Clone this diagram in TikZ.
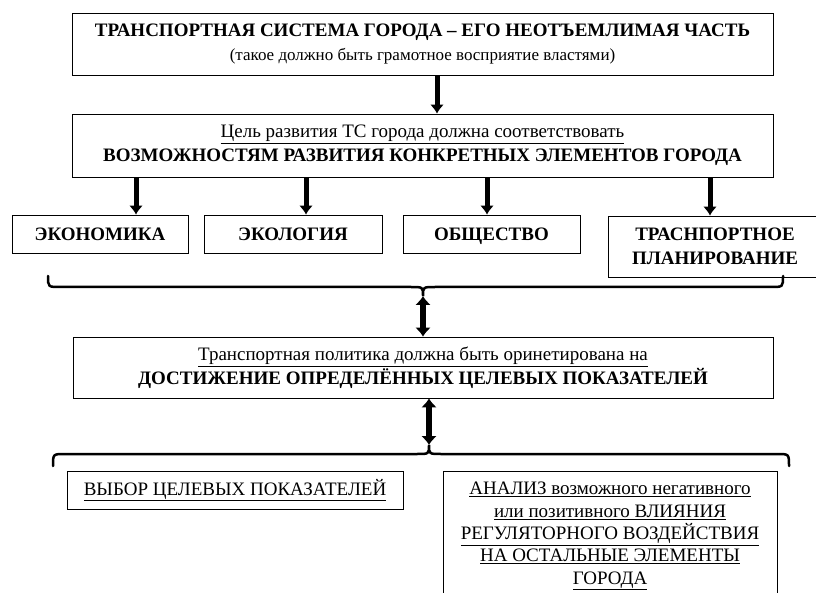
\documentclass[tikz,border=0pt]{standalone}
\usepackage{fontspec}
\setmainfont{Liberation Serif}
\usetikzlibrary{arrows.meta}
\newcommand{\lineunder}[1]{\underline{#1}}

\tikzset{
  box/.style={draw, line width=0.8pt, inner sep=0pt, align=center,
    font=\fontsize{19}{24}\selectfont},
  elem/.style={box, font=\fontsize{19}{24}\selectfont\bfseries, minimum height=38pt,
    text depth=0pt},
  bigarrow/.style={line width=5pt, -{Latex[length=9pt,width=14pt]}},
  botharrow/.style={line width=6pt, {Latex[length=9pt,width=16pt]}-{Latex[length=9pt,width=16pt]}},
  brace/.style={line width=2.5pt, line cap=round},
}

\begin{document}
\begin{tikzpicture}[x=1pt,y=-1pt]
\useasboundingbox (0,0) rectangle (816,593);
% top boxes
\node[box, minimum width=701pt, minimum height=62pt] (sys) at (422.5,44.5)
  {\textbf{ТРАНСПОРТНАЯ СИСТЕМА ГОРОДА – ЕГО НЕОТЪЕМЛИМАЯ ЧАСТЬ}\\
   {\fontsize{17}{20}\selectfont(такое должно быть грамотное восприятие властями)}};
\node[box, minimum width=701pt, minimum height=63pt] (goal) at (422.5,145.5)
  {\lineunder{Цель развития ТС города должна соответствовать}\\
   \textbf{ВОЗМОЖНОСТЯМ РАЗВИТИЯ КОНКРЕТНЫХ ЭЛЕМЕНТОВ ГОРОДА}};
\draw[bigarrow] ([xshift=14.5pt]sys.south) -- ([xshift=14.5pt]goal.north);

% elements of the city
\node[elem, minimum width=176pt] (econ) at (100,234) {ЭКОНОМИКА};
\node[elem, minimum width=178pt] (ecol) at (293,234) {ЭКОЛОГИЯ};
\node[elem, minimum width=177pt] (soc) at (491.5,234) {ОБЩЕСТВО};
\node[elem, minimum width=214pt, minimum height=61pt] (plan) at (715,246.5)
  {ТРАСНПОРТНОЕ\\ПЛАНИРОВАНИЕ};
\foreach \n/\x in {econ/136,ecol/306,soc/487,plan/710}
  \draw[bigarrow] (goal.south -| \x,0) -- (\n.north -| \x,0);

% first brace
\coordinate (tipA) at (423,296);
\draw[brace] (48,276) .. controls (48,287) .. (60,287) -- (411,287)
  .. controls (423,287) .. (tipA) .. controls (423,287) .. (435,287)
  -- (771,287) .. controls (783,287) .. (783,276);

% policy
\node[box, minimum width=700pt, minimum height=61pt] (policy) at (423,367.5)
  {\lineunder{Транспортная политика должна быть оринетирована на}\\
   \textbf{ДОСТИЖЕНИЕ ОПРЕДЕЛЁННЫХ ЦЕЛЕВЫХ ПОКАЗАТЕЛЕЙ}};
\draw[botharrow] (tipA) -- (policy.north -| tipA);

% second brace
\coordinate (tipB) at (429,445);
\draw[botharrow] (policy.south -| tipB) -- (tipB);
\draw[brace] (53,466) .. controls (53,454) .. (65,454) -- (417,454)
  .. controls (429,454) .. (tipB) .. controls (429,454) .. (441,454)
  -- (777,454) .. controls (789,454) .. (789,466);

% bottom boxes
\node[box, minimum width=336pt, minimum height=38pt] (choice) at (235,490)
  {\lineunder{ВЫБОР ЦЕЛЕВЫХ ПОКАЗАТЕЛЕЙ}};
\node[box, minimum width=334pt, anchor=north, inner ysep=11pt,
  font=\fontsize{19}{22.3}\selectfont] (anal) at (610,471)
  {\lineunder{АНАЛИЗ возможного негативного}\\
   \lineunder{или позитивного ВЛИЯНИЯ}\\
   \lineunder{РЕГУЛЯТОРНОГО ВОЗДЕЙСТВИЯ}\\
   \lineunder{НА ОСТАЛЬНЫЕ ЭЛЕМЕНТЫ}\\
   \lineunder{ГОРОДА}};
\end{tikzpicture}
\end{document}
